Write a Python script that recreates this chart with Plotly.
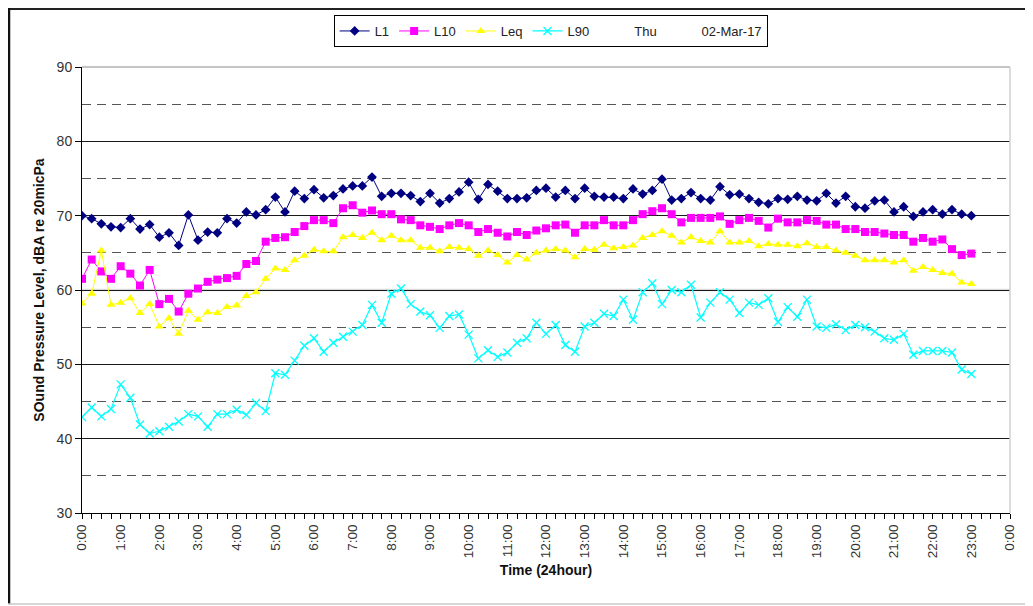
import plotly.graph_objects as go

# ---------------- data (15-minute samples, 0:00 .. 23:00) ----------------
hours_step = 0.25
L1 = [70.0, 69.6, 68.9, 68.5, 68.4, 69.6, 68.2, 68.8, 67.1, 67.7, 66.0, 70.1, 66.7, 67.8, 67.7, 69.6,
      69.0, 70.5, 70.1, 70.8, 72.5, 70.5, 73.3, 72.3, 73.5,
      72.4, 72.7, 73.6, 74.0, 74.0, 75.2, 72.6, 73.0, 73.0, 72.7, 71.9, 73.0, 71.7, 72.3, 73.2,
      74.5, 72.2, 74.2, 73.3, 72.3, 72.3, 72.4, 73.4, 73.7,
      72.5, 73.4, 72.3, 73.7, 72.6, 72.5, 72.5, 72.3, 73.6, 72.9, 73.4, 74.9, 72.1, 72.3, 73.1,
      72.3, 72.1, 73.9, 72.8, 72.9, 72.3, 71.8, 71.6, 72.3,
      72.2, 72.6, 72.1, 72.0, 73.0, 71.7, 72.6, 71.2, 71.0, 72.0, 72.1, 70.5, 71.2, 69.9, 70.5,
      70.8, 70.2, 70.8, 70.2, 70.0]
L10 = [61.5, 64.1, 62.5, 61.5, 63.2, 62.2, 60.6, 62.7, 58.1, 58.8, 57.1, 59.5, 60.2, 61.1, 61.4, 61.6,
       61.9, 63.5, 63.9, 66.5, 67.0, 67.1, 67.8, 68.6, 69.4,
       69.4, 69.0, 71.0, 71.4, 70.4, 70.7, 70.2, 70.2, 69.5, 69.4, 68.7, 68.5, 68.2, 68.7, 69.0,
       68.7, 67.8, 68.2, 67.7, 67.2, 67.8, 67.4, 68.0, 68.3,
       68.7, 68.8, 67.7, 68.7, 68.7, 69.4, 68.7, 68.7, 69.4, 70.2, 70.6, 71.0, 70.2, 69.1, 69.7,
       69.7, 69.7, 69.9, 68.9, 69.4, 69.7, 69.3, 68.4, 69.6,
       69.1, 69.1, 69.4, 69.3, 68.8, 68.8, 68.2, 68.2, 67.8, 67.8, 67.6, 67.4, 67.4, 66.5, 67.0,
       66.5, 66.8, 65.5, 64.7, 64.9]
Leq = [58.2, 59.5, 65.3, 58.0, 58.3, 58.9, 56.9, 58.1, 55.1, 56.2, 54.1, 57.2, 56.0, 57.0, 56.9, 57.7,
       57.9, 59.2, 59.7, 61.5, 62.9, 62.7, 64.0, 64.6, 65.4,
       65.2, 65.2, 67.1, 67.4, 67.0, 67.7, 66.7, 67.3, 66.7, 66.7, 65.7, 65.7, 65.2, 65.8, 65.7,
       65.5, 64.6, 65.3, 64.7, 63.7, 64.7, 64.1, 65.0, 65.3,
       65.5, 65.3, 64.4, 65.5, 65.4, 66.1, 65.6, 65.8, 66.0, 67.0, 67.4, 67.9, 67.3, 66.4, 67.1,
       66.6, 66.4, 67.9, 66.4, 66.4, 66.6, 65.9, 66.2, 66.1,
       66.1, 65.9, 66.3, 65.8, 65.8, 65.3, 65.0, 64.6, 64.0, 64.0, 64.0, 63.7, 64.0, 62.6, 63.1,
       62.7, 62.3, 62.2, 61.0, 60.8]
L90 = [42.9, 44.2, 43.0, 44.0, 47.3, 45.5, 41.9, 40.7, 41.0, 41.6, 42.3, 43.3, 43.0, 41.6, 43.3, 43.3,
       43.9, 43.2, 44.8, 43.7, 48.8, 48.6, 50.5, 52.5, 53.5,
       51.7, 52.9, 53.7, 54.4, 55.3, 58.0, 55.6, 59.5, 60.2, 58.1, 57.1, 56.6, 54.9, 56.5, 56.7,
       54.0, 50.8, 51.9, 51.0, 51.6, 52.9, 53.5, 55.6, 54.1,
       55.3, 52.6, 51.7, 55.1, 55.6, 56.8, 56.5, 58.7, 56.0, 59.7, 60.9, 58.1, 60.0, 59.7, 60.7,
       56.3, 58.3, 59.7, 58.7, 56.9, 58.3, 58.0, 58.9, 55.7,
       57.7, 56.4, 58.7, 55.1, 54.9, 55.4, 54.6, 55.3, 55.0, 54.4, 53.5, 53.3, 54.1, 51.3, 51.8,
       51.8, 51.8, 51.6, 49.3, 48.7]

hour_ticks = list(range(0, 25))
hour_labels = [f"{h % 24}:00" for h in hour_ticks]
day_label = "Thu"
date_label = "02-Mar-17"
light_line_level = 60

x = [i * hours_step for i in range(len(L1))]

FONT = "Liberation Sans, Arial, sans-serif"

fig = go.Figure()
fig.add_trace(go.Scatter(x=x, y=L1, name="L1", mode="lines+markers",
                         line=dict(color="#000080", width=1),
                         marker=dict(symbol="diamond", size=7.5, color="#000080")))
fig.add_trace(go.Scatter(x=x, y=L10, name="L10", mode="lines+markers",
                         line=dict(color="#FF00FF", width=1),
                         marker=dict(symbol="square", size=8, color="#FF00FF")))
fig.add_trace(go.Scatter(x=x, y=Leq, name="Leq", mode="lines+markers",
                         line=dict(color="#FFFF00", width=1),
                         marker=dict(symbol="triangle-up", size=8, color="#FFFF00")))
fig.add_trace(go.Scatter(x=x, y=L90, name="L90", mode="lines+markers",
                         line=dict(color="#00FFFF", width=1.2),
                         marker=dict(symbol="x-thin", size=8,
                                     line=dict(color="#00FFFF", width=1.3))))
for nm in (day_label, date_label):
    fig.add_trace(go.Scatter(x=[None], y=[None], name=nm, mode="lines",
                             line=dict(color="rgba(0,0,0,0)", width=1)))

# figure geometry (the page body adds an 8px offset)
OFF = 8
W, H = 1033, 606
ml, mr, mt, mb = 74, 31, 59, 101
pw, ph = W - ml - mr, H - mt - mb

def px_x(p):
    return (p - OFF - ml) / pw

def px_y(p):
    return (H - mb - (p - OFF)) / ph

shapes = [
    dict(type="line", xref="paper", yref="y", x0=0, x1=1, y0=light_line_level, y1=light_line_level,
         line=dict(color="#d9d9d9", width=2.5), layer="between"),
    dict(type="line", xref="paper", yref="paper", x0=0, x1=1, y0=1, y1=1,
         line=dict(color="#8a8a8a", width=1)),
    dict(type="line", xref="paper", yref="paper", x0=1, x1=1, y0=0, y1=1,
         line=dict(color="#d0d0d0", width=1.5)),
    dict(type="line", xref="paper", yref="paper", x0=px_x(8), x1=px_x(1045), y0=px_y(9), y1=px_y(9),
         line=dict(color="#222", width=2)),
    dict(type="line", xref="paper", yref="paper", x0=px_x(9), x1=px_x(9), y0=px_y(8), y1=px_y(604),
         line=dict(color="#111", width=2.5)),
    dict(type="line", xref="paper", yref="paper", x0=px_x(8), x1=px_x(1045), y0=px_y(604), y1=px_y(604),
         line=dict(color="#c8c8c8", width=1.5)),
]

fig.update_layout(
    width=W, height=H,
    margin=dict(l=ml, r=mr, t=mt, b=mb, autoexpand=False),
    paper_bgcolor="white", plot_bgcolor="white",
    font=dict(family=FONT, size=13.5, color="#222"),
    showlegend=True,
    legend=dict(orientation="h", x=0.505, xanchor="center", y=px_y(15), yanchor="top",
                bordercolor="#000", borderwidth=1, bgcolor="white",
                font=dict(family=FONT, size=13, color="#222"),
                itemclick=False, tracegroupgap=0),
    shapes=shapes,
    xaxis=dict(range=[0, 24], tickvals=hour_ticks, ticktext=hour_labels, tickangle=-90,
               showgrid=False, zeroline=False, showline=True, linecolor="#000", linewidth=1,
               ticks="outside", ticklen=5, tickcolor="#000",
               minor=dict(dtick=0.25, ticks="outside", ticklen=5, tickcolor="#000", showgrid=False),
               tickfont=dict(family=FONT, size=13.5, color="#333"),
               title=dict(text="<b>Time (24hour)</b>", standoff=8,
                          font=dict(family=FONT, size=14, color="#111"))),
    yaxis=dict(range=[30, 90], dtick=10, tick0=30,
               showgrid=True, gridcolor="#1a1a1a", gridwidth=1, zeroline=False,
               showline=True, linecolor="#000", linewidth=1,
               ticks="outside", ticklen=6, tickcolor="#000",
               minor=dict(dtick=5, tick0=30, showgrid=True, griddash="9px,6px",
                          gridcolor="#555", gridwidth=1.2, ticks=""),
               tickfont=dict(family=FONT, size=14, color="#333"),
               title=dict(text="<b>SOund Pressure Level, dBA re 20micPa</b>", standoff=8,
                          font=dict(family=FONT, size=14, color="#111"))),
)

fig.write_html("out.html")
